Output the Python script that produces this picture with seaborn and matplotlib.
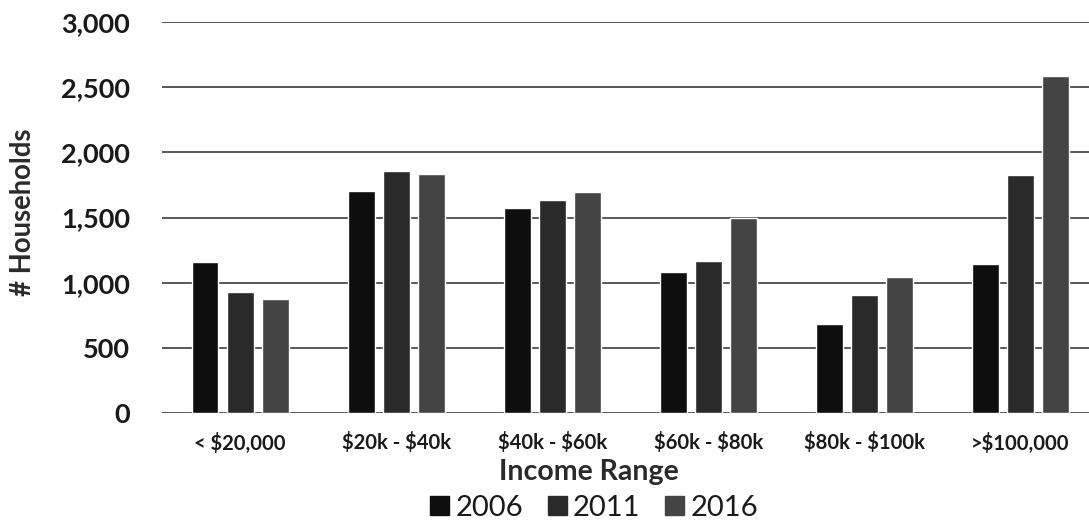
import matplotlib
matplotlib.use("Agg")
import matplotlib.pyplot as plt
import seaborn as sns
import pandas as pd
from matplotlib.ticker import FuncFormatter

income_ranges = ["< $20,000", "$20k - $40k", "$40k - $60k", "$60k - $80k", "$80k - $100k", ">$100,000"]
years = ["2006", "2011", "2016"]
households_2006 = [1160, 1700, 1570, 1080, 680, 1145]
households_2011 = [930, 1860, 1635, 1165, 905, 1825]
households_2016 = [875, 1830, 1695, 1500, 1045, 2585]

df = pd.DataFrame({
    "Income Range": income_ranges * 3,
    "Year": [y for y in years for _ in income_ranges],
    "Households": households_2006 + households_2011 + households_2016,
})

sns.set_theme(style="white")
plt.rcParams["font.family"] = ["Lato", "DejaVu Sans"]
# dollar signs in the category names are literal, not math
plt.rcParams["text.parse_math"] = False

palette = {"2006": "#0e0e0e", "2011": "#2a2a2a", "2016": "#444444"}

fig = plt.figure(figsize=(10.89, 5.24), dpi=100)
ax = fig.add_axes([162 / 1089, 1 - 413 / 524, (1089 - 162) / 1089, (413 - 22) / 524])

sns.barplot(data=df, x="Income Range", y="Households", hue="Year",
            order=income_ranges, hue_order=years, palette=palette,
            width=0.673, gap=0.23, saturation=1, ax=ax, legend=False, zorder=3)

ax.set_ylim(0, 3000)
ax.set_xlim(-0.5, 5.44)
ax.set_yticks(range(0, 3001, 500))
ax.yaxis.set_major_formatter(FuncFormatter(lambda v, p: f"{int(v):,}"))
ax.grid(axis="y", color="#3c3c3c", linewidth=1.2, linestyle="-")
ax.grid(axis="x", visible=False)
ax.set_axisbelow(True)
for s in ax.spines.values():
    s.set_visible(False)

ax.tick_params(axis="y", labelsize=19.5, pad=23, length=0)
ax.tick_params(axis="x", labelsize=14.6, pad=14, length=0)
for lbl in ax.get_yticklabels():
    lbl.set_fontweight("bold")
    lbl.set_color("#1a1a1a")
for lbl in ax.get_xticklabels():
    lbl.set_fontweight("bold")
    lbl.set_color("#1a1a1a")

ax.set_xlabel("Income Range", fontsize=20.5, fontweight="bold", color="#2a2a2a")
ax.xaxis.set_label_coords((589 - 162) / 927, -(472 - 413) / 391, transform=ax.transAxes)
ax.xaxis.label.set_va("center")
ax.set_ylabel("# Households", fontsize=19.8, fontweight="bold", color="#2a2a2a")
ax.yaxis.set_label_coords(-(162 - 23) / 927, (413 - 212) / 391, transform=ax.transAxes)
ax.yaxis.label.set_va("center")

handles = [plt.Rectangle((0, 0), 1, 1, color=palette[y]) for y in years]
fig.legend(handles, years, loc="center", bbox_to_anchor=(594 / 1089, 1 - 508 / 524),
           ncol=3, frameon=False, fontsize=21, handlelength=0.66, handleheight=0.62,
           handletextpad=0.2, columnspacing=0.85, labelcolor="#1a1a1a",
           borderpad=0, borderaxespad=0)

fig.savefig("out.png", dpi=100)
